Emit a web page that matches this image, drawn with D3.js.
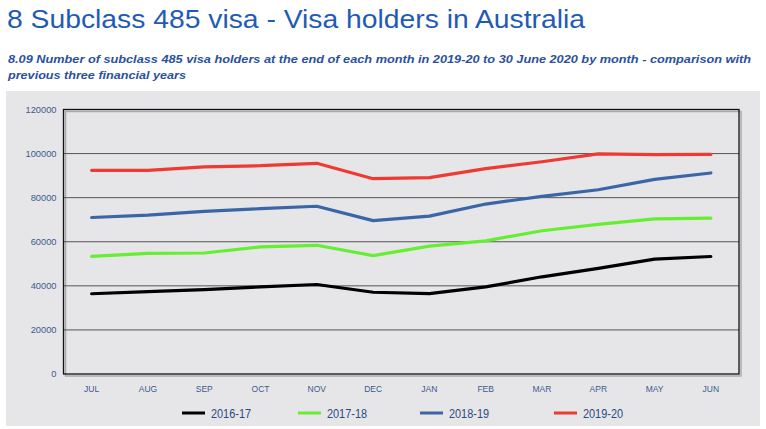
<!DOCTYPE html>
<html><head><meta charset="utf-8">
<script src="https://cdn.jsdelivr.net/npm/d3@7"></script>
<style>
html,body{margin:0;padding:0;background:#fff;}
svg{display:block;}
</style></head>
<body>
<svg id="chart" width="766" height="429"></svg>
<script>
const months = ["JUL","AUG","SEP","OCT","NOV","DEC","JAN","FEB","MAR","APR","MAY","JUN"];
const yTicks = [0,20000,40000,60000,80000,100000,120000];
const seriesNames = ["2016-17","2017-18","2018-19","2019-20"];
const seriesColors = ["#000000","#66ee33","#3a66a8","#ee3a33"];
const fy1617 = [36400,37400,38300,39500,40600,37100,36500,39500,44100,47900,52100,53300];
const fy1718 = [53400,54700,54900,57700,58400,53700,58000,60400,65000,67900,70400,70700];
const fy1819 = [71000,72100,73800,75000,76100,69600,71600,77100,80600,83600,88300,91200];
const fy1920 = [92400,92400,94000,94500,95600,88600,89100,93200,96300,99900,99500,99600];
const seriesData = [fy1617, fy1718, fy1819, fy1920];

(function(){
const svg = d3.select("#chart");
const pL = 63.5, pR = 739, pT = 109.5, pB = 374;

svg.append("text").attr("x",7).attr("y",28)
  .attr("font-family","Liberation Sans, Arial, sans-serif").attr("font-size",25.5)
  .attr("textLength",578).attr("lengthAdjust","spacingAndGlyphs")
  .attr("fill","#1f5bb5").text("8 Subclass 485 visa - Visa holders in Australia");

const sub = svg.append("text").attr("font-family","Liberation Sans Narrow, Arial Narrow, Liberation Sans, sans-serif")
  .attr("font-size",11.3).attr("font-weight","bold").attr("font-style","italic").attr("fill","#2a50a0");
sub.append("tspan").attr("x",8).attr("y",63)
  .attr("textLength",743).attr("lengthAdjust","spacingAndGlyphs")
  .text("8.09 Number of subclass 485 visa holders at the end of each month in 2019-20 to 30 June 2020 by month - comparison with");
sub.append("tspan").attr("x",8).attr("y",79)
  .attr("textLength",178).attr("lengthAdjust","spacingAndGlyphs")
  .text("previous three financial years");

svg.append("rect").attr("x",6).attr("y",91).attr("width",754).attr("height",335).attr("fill","#e6e6e8");

const x = d3.scaleBand().domain(months).range([pL,pR]);
const y = d3.scaleLinear().domain([0,120000]).range([pB,pT]);

svg.append("rect").attr("x",pL+2).attr("y",pT+2).attr("width",pR-pL).attr("height",pB-pT)
  .attr("fill","none").attr("stroke","#aaaaaa").attr("stroke-width",1.5);

svg.append("g").selectAll("line").data(yTicks.slice(1,-1)).enter().append("line")
  .attr("x1",pL).attr("x2",pR).attr("y1",d=>y(d)).attr("y2",d=>y(d))
  .attr("stroke","#555555").attr("stroke-width",1);

const yAxis = d3.axisLeft(y).tickValues(yTicks).tickSize(0).tickPadding(7).tickFormat(d3.format("d"));
const ya = svg.append("g").attr("transform",`translate(${pL},0)`).call(yAxis);
ya.select(".domain").remove();
ya.selectAll("text").attr("font-family","Liberation Sans, Arial, sans-serif").attr("font-size",9.3).attr("fill","#3c5a8c");

const xAxis = d3.axisBottom(x).tickSize(0).tickPadding(12);
const xa = svg.append("g").attr("transform",`translate(0,${pB})`).call(xAxis);
xa.select(".domain").remove();
xa.selectAll("text").attr("font-family","Liberation Sans, Arial, sans-serif").attr("font-size",8.5).attr("fill","#3c5a8c");

svg.append("rect").attr("x",pL).attr("y",pT).attr("width",pR-pL).attr("height",pB-pT)
  .attr("fill","none").attr("stroke","#111").attr("stroke-width",1.3);

const line = d3.line().x((d,i)=>x(months[i])+x.bandwidth()/2).y(d=>y(d));
svg.selectAll("path.series").data(seriesData).enter().append("path")
  .attr("class","series").attr("d",line).attr("fill","none")
  .attr("stroke",(d,i)=>seriesColors[i]).attr("stroke-width",3.2)
  .attr("stroke-linejoin","round").attr("stroke-linecap","round");

const legX = [182,298,420,554];
const leg = svg.selectAll("g.leg").data(seriesNames).enter().append("g")
  .attr("class","leg").attr("transform",(d,i)=>`translate(${legX[i]},413)`);
leg.append("line").attr("x1",0).attr("x2",23).attr("y1",0).attr("y2",0)
  .attr("stroke",(d,i)=>seriesColors[i]).attr("stroke-width",3);
leg.append("text").attr("x",29).attr("y",4.5).attr("font-family","Liberation Sans, Arial, sans-serif")
  .attr("font-size",12.5).attr("textLength",40).attr("lengthAdjust","spacingAndGlyphs")
  .attr("fill","#2a4a80").text(d=>d);
})();
</script>
</body></html>
